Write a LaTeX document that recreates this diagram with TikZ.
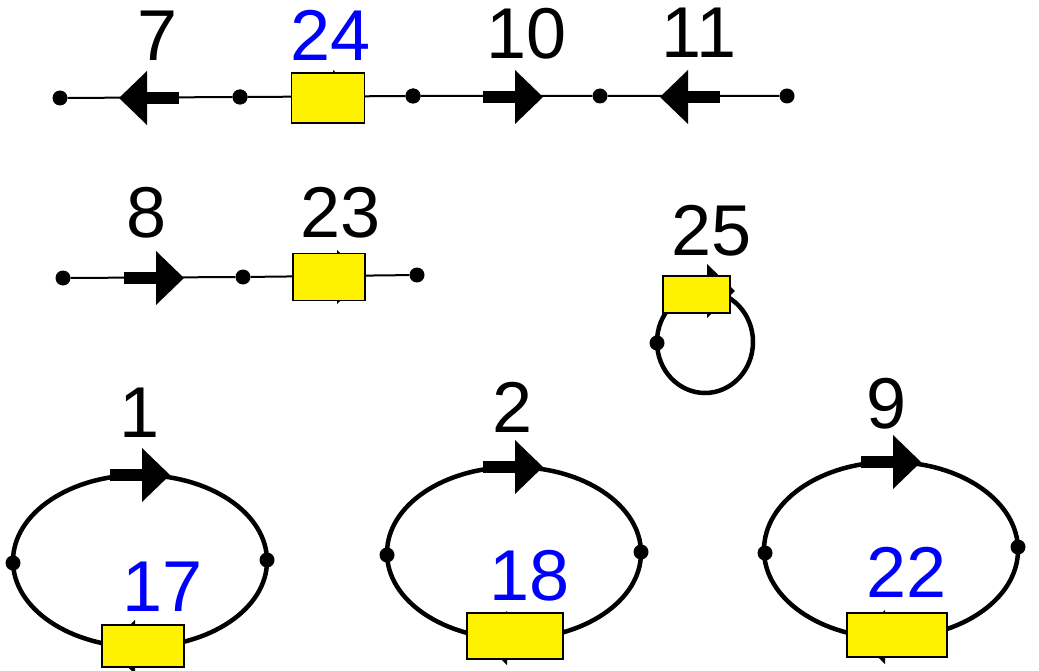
\documentclass[tikz,border=0pt]{standalone}
\usepackage{fontspec}
\setmainfont{Liberation Sans}
\begin{document}
\begin{tikzpicture}[x=1pt,y=-1pt,
  vertex/.style={circle,fill=black,inner sep=0pt,minimum size=15pt},
  thinedge/.style={line width=2pt},
  loopedge/.style={line width=4.5pt},
  yellowbox/.style={rectangle,draw=black,line width=1.5pt,fill=yellow,inner sep=0pt},
  numlabel/.style={inner sep=0pt,font=\fontsize{72}{82}\selectfont},
  bluelabel/.style={numlabel,text=blue},
  arrowR/.pic={\fill (-32,-6) rectangle (0,6); \fill (0,-27) -- (28,0) -- (0,27) -- cycle;},
  arrowL/.pic={\fill (32,-6) rectangle (0,6); \fill (0,-27) -- (-28,0) -- (0,27) -- cycle;}]
\useasboundingbox (0,0) rectangle (1039,671);

% ---------- top chain: 7, 24, 10, 11 ----------
\node[vertex] (a1) at (60,98) {};
\node[vertex] (a2) at (240,97) {};
\node[vertex] (a3) at (413,96) {};
\node[vertex] (a4) at (600,96) {};
\node[vertex] (a5) at (787,96) {};
\draw[thinedge] (a1) -- (a2) -- (a3) -- (a4) -- (a5);
\pic at (147,98) {arrowL};
\pic at (333,97) {arrowR};
\pic at (515,97) {arrowR};
\pic at (688,97) {arrowL};
\node[yellowbox,minimum width=73pt,minimum height=50pt] (b24) at (328,98) {};
\node[vertex] at (a2) {};
\node[vertex] at (a3) {};
\node[numlabel] (l7) at (158,36) {7};
\node[bluelabel] (l24) at (331,35) {24};
\node[numlabel] (l10) at (527,34) {10};
\node[numlabel] (l11) at (699,33) {11};

% ---------- second chain: 8, 23 ----------
\node[vertex] (c1) at (63,278) {};
\node[vertex] (c2) at (243,277) {};
\node[vertex] (c3) at (417,275) {};
\draw[thinedge] (c1) -- (c2) -- (c3);
\pic at (156,278) {arrowR};
\pic at (337,277) {arrowR};
\node[yellowbox,minimum width=72pt,minimum height=47pt] (b23) at (329,277) {};
\node[numlabel] (l8) at (147,213) {8};
\node[numlabel] (l23) at (341,213) {23};

% ---------- self loop: 25 ----------
\coordinate (o25) at (705,342);
\draw[loopedge] (o25) ellipse [x radius=48, y radius=51];
\node[vertex] (e25) at (657,343) {};
\pic at (707,291) {arrowR};
\node[yellowbox,minimum width=67pt,minimum height=37pt] (b25) at (696.5,294.5) {};
\node[numlabel] (l25) at (712,231) {25};

% ---------- cycle: 1, 17 ----------
\coordinate (o1) at (140,561);
\draw[loopedge] (o1) ellipse [x radius=127, y radius=86];
\node[vertex] (p1) at (13,563) {};
\node[vertex] (q1) at (267,560) {};
\pic at (142,475) {arrowR};
\pic at (135,647) {arrowL};
\node[yellowbox,minimum width=82pt,minimum height=42pt] (b17) at (143,646) {};
\node[numlabel] (l1) at (140,413) {1};
\node[bluelabel] (l17) at (163,587) {17};

% ---------- cycle: 2, 18 ----------
\coordinate (o2) at (514,553);
\draw[loopedge] (o2) ellipse [x radius=127, y radius=86];
\node[vertex] (p2) at (387,555) {};
\node[vertex] (q2) at (641,552) {};
\pic at (515,467) {arrowR};
\pic at (507,638) {arrowL};
\node[yellowbox,minimum width=96pt,minimum height=46pt] (b18) at (515,636) {};
\node[numlabel] (l2) at (513,407) {2};
\node[bluelabel] (l18) at (530,576) {18};

% ---------- cycle: 9, 22 ----------
\coordinate (o9) at (891,550);
\draw[loopedge] (o9) ellipse [x radius=127, y radius=88];
\node[vertex] (p9) at (765,553) {};
\node[vertex] (q9) at (1018,547) {};
\pic at (893,462) {arrowR};
\pic at (885,637) {arrowL};
\node[yellowbox,minimum width=100pt,minimum height=44pt] (b22) at (897,635) {};
\node[numlabel] (l9) at (887,404) {9};
\node[bluelabel] (l22) at (907,572) {22};
\end{tikzpicture}
\end{document}
